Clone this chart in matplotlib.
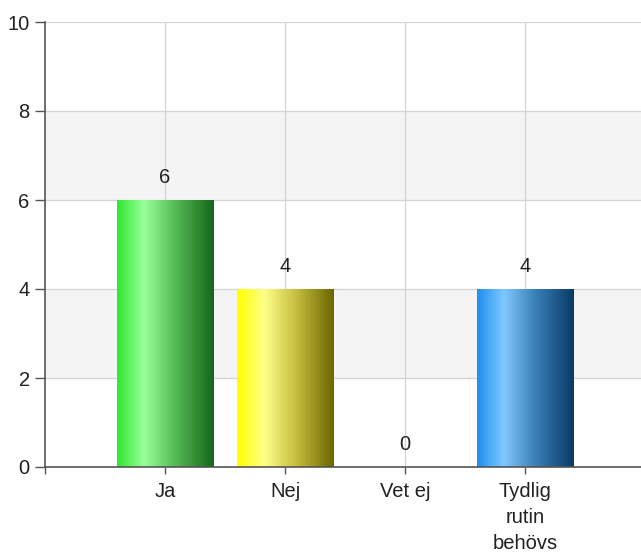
import matplotlib
matplotlib.use("Agg")
import matplotlib.pyplot as plt
import numpy as np
from matplotlib.colors import LinearSegmentedColormap

categories = ["Ja", "Nej", "Vet ej", "Tydlig\nrutin\nbehövs"]
values = [6, 4, 0, 4]
yticks = [0, 2, 4, 6, 8, 10]
gradients = [
    ["#2fe82f", "#99ff99", "#55bb55", "#16661a"],
    ["#ffff00", "#ffff88", "#c8c040", "#6b6600"],
    ["#1e90ee", "#80c8ff", "#3a80b8", "#083a66"],
    ["#1e90ee", "#80c8ff", "#3a80b8", "#083a66"],
]

plt.rcParams['font.family'] = ['Liberation Sans', 'DejaVu Sans']
FS = 14.5

fig = plt.figure(figsize=(6.41, 5.52), dpi=100)
ax = fig.add_axes([45/641, 1-467/552, 1-45/641+0.01, (467-22)/552])

x = np.arange(len(categories))

# bands
for lo, hi in [(2, 4), (6, 8)]:
    ax.axhspan(lo, hi, color="#f4f4f4", zorder=0, lw=0)
for t in yticks[1:]:
    ax.axhline(t, color="#d4d4d4", lw=0.9, zorder=0.5)
for xi in x:
    ax.axvline(xi, color="#d4d4d4", lw=0.9, zorder=0.5)

bars = ax.bar(x, values, width=0.8, color="none", edgecolor="none", zorder=2)
grad = np.linspace(0, 1, 256).reshape(1, -1)
for i, b in enumerate(bars):
    h = b.get_height()
    if h <= 0:
        continue
    cmap = LinearSegmentedColormap.from_list("g%d" % i,
        list(zip([0, 0.28, 0.6, 1.0], gradients[i])))
    bx, bw = b.get_x(), b.get_width()
    im = ax.imshow(grad, cmap=cmap, aspect="auto", extent=(bx, bx + bw, 0, h),
                   zorder=2, interpolation="bilinear")
    im.set_clip_path(b)

for xi, v in zip(x, values):
    ax.text(xi, v + 0.5, str(v), ha="center", va="center", fontsize=FS, color="#222222")

ax.set_xlim(-1, 4.02)
ax.set_ylim(0, 10)
ax.set_yticks(yticks)
ax.set_yticklabels([str(t) for t in yticks], fontsize=FS, color="#222222")
ax.set_xticks(list(x) + [-1])
ax.set_xticklabels(categories + [""], fontsize=FS, linespacing=1.45, color="#222222")
ax.tick_params(axis="y", length=7, color="#555555", width=1, pad=4)
ax.tick_params(axis="x", length=5, color="#555555", width=1, pad=6)
for s in ["top", "right"]:
    ax.spines[s].set_visible(False)
ax.spines["left"].set_color("#555555")
ax.spines["bottom"].set_color("#555555")
ax.spines["left"].set_linewidth(1.2)
ax.spines["bottom"].set_linewidth(1.2)
ax.set_axisbelow(True)

fig.savefig("out.png", dpi=100)
